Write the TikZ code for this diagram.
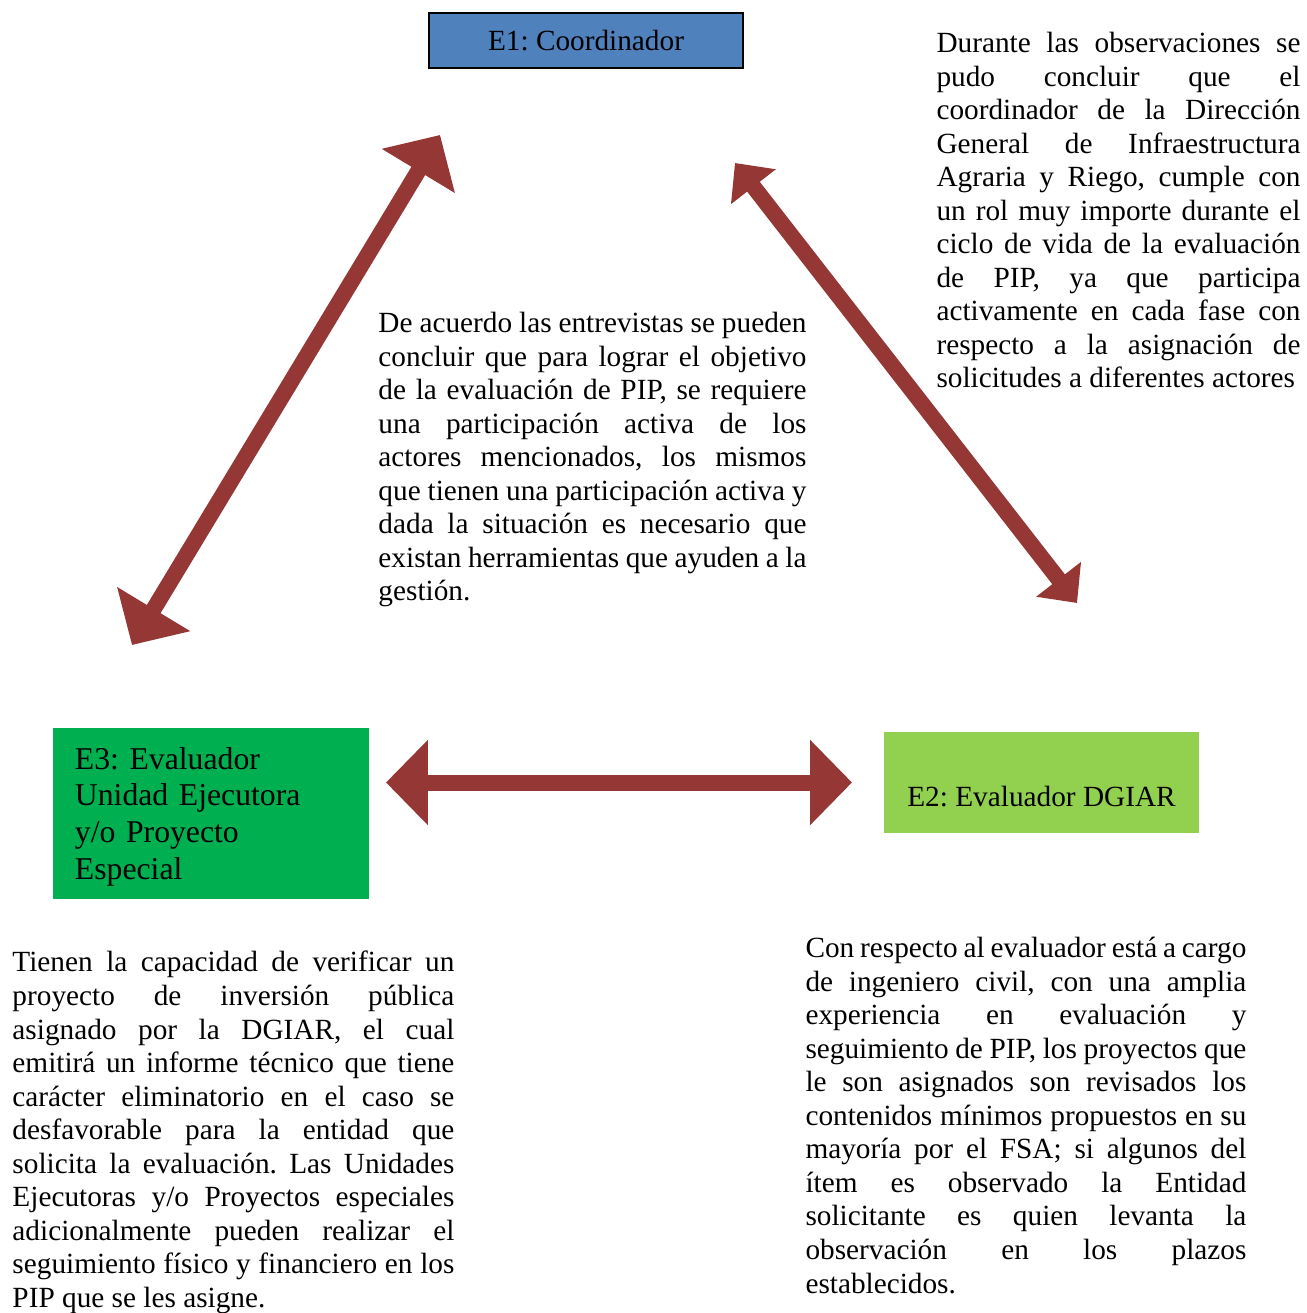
\documentclass[tikz,border=0pt]{standalone}
\usepackage{fontspec}
\setmainfont{Liberation Serif}
\usepackage{tikz}
\usetikzlibrary{positioning,calc,arrows.meta}
\definecolor{coordblue}{HTML}{4F81BD}
\definecolor{dgiargreen}{HTML}{92D050}
\definecolor{uegreen}{HTML}{00B050}
\definecolor{linkred}{HTML}{953735}
\frenchspacing
\newcommand{\bodyfont}{\fontsize{12}{13.75}\selectfont\spaceskip=3pt plus 4pt minus 1pt}
\tikzset{
	actor/.style={rectangle, inner sep=0pt, font=\fontsize{12}{13.75}\selectfont},
	notes/.style={anchor=north west, inner sep=0pt, align=justify, font=\bodyfont},
	link/.style={draw=linkred, line width=6.56pt, {Triangle[length=17.2pt,width=34pt]}-{Triangle[length=17.2pt,width=34pt]}},
	thinlink/.style={draw=linkred, line width=6.56pt, {Triangle[length=12.3pt,width=22.5pt]}-{Triangle[length=12.3pt,width=22.5pt]}}
}
\begin{document}
\begin{tikzpicture}[x=0.4098pt, y=-0.4098pt]
	\useasboundingbox (0,0) rectangle (1306,1313);
	% actors
	\node[actor, draw=black, line width=0.8pt, fill=coordblue, minimum width=128.7pt, minimum height=22.5pt] (e1) at (586,40.5) {E1: Coordinador};
	\node[actor, fill=dgiargreen, minimum width=129.1pt, minimum height=41.4pt, text height=19.3pt, text depth=0pt] (e2) at (1041.5,782.5) {E2: Evaluador DGIAR};
	\node[actor, fill=uegreen, minimum width=129.3pt, minimum height=69.9pt, text width=111.7pt, align=left, font=\fontsize{13}{15}\selectfont] (e3) at (211.25,813.75) {\rule{0pt}{11.4pt}E3: Evaluador\\ Unidad Ejecutora\\ y/o Proyecto\\ Especial};
	% arrow ends
	\coordinate (l1) at (440,135);
	\coordinate (l3) at (132,645);
	\coordinate (r1) at (735,163);
	\coordinate (r2) at (1077,603);
	\coordinate (h3) at (386,782.5);
	\coordinate (h2) at (852,782.5);
	\draw[link] (l3) -- (l1);
	\draw[thinlink] (r1) -- (r2);
	\draw[link] (h3) -- (h2);
	% comments
	\node[notes, text width=149.2pt] (c1) at (936,28.5) {\strut Durante las observaciones se\linebreak pudo concluir que el\linebreak coordinador de la Dirección\linebreak General de Infraestructura\linebreak Agraria y Riego, cumple con\linebreak un rol muy importe durante el\linebreak ciclo de vida de la evaluación\linebreak de PIP, ya que participa\linebreak activamente en cada fase con\linebreak respecto a la asignación de\linebreak solicitudes a diferentes actores};
	\node[notes, text width=175.4pt] (c0) at (378,308.5) {\strut De acuerdo las entrevistas se pueden\linebreak concluir que para lograr el objetivo\linebreak de la evaluación de PIP, se requiere\linebreak una participación activa de los\linebreak actores mencionados, los mismos\linebreak que tienen una participación activa y\linebreak dada la situación es necesario que\linebreak existan herramientas que ayuden a la\linebreak gestión.};
	\node[notes, text width=181.1pt] (c3) at (12,948) {\strut Tienen la capacidad de verificar un\linebreak proyecto de inversión pública\linebreak asignado por la DGIAR, el cual\linebreak emitirá un informe técnico que tiene\linebreak carácter eliminatorio en el caso se\linebreak desfavorable para la entidad que\linebreak solicita la evaluación. Las Unidades\linebreak Ejecutoras y/o Proyectos especiales\linebreak adicionalmente pueden realizar el\linebreak seguimiento físico y financiero en los\linebreak PIP que se les asigne.};
	\node[notes, text width=180.7pt] (c2) at (805,933.5) {\strut Con respecto al evaluador está a cargo\linebreak de ingeniero civil, con una amplia\linebreak experiencia en evaluación y\linebreak seguimiento de PIP, los proyectos que\linebreak le son asignados son revisados los\linebreak contenidos mínimos propuestos en su\linebreak mayoría por el FSA; si algunos del\linebreak ítem es observado la Entidad\linebreak solicitante es quien levanta la\linebreak observación en los plazos\linebreak establecidos.};
\end{tikzpicture}
\end{document}
